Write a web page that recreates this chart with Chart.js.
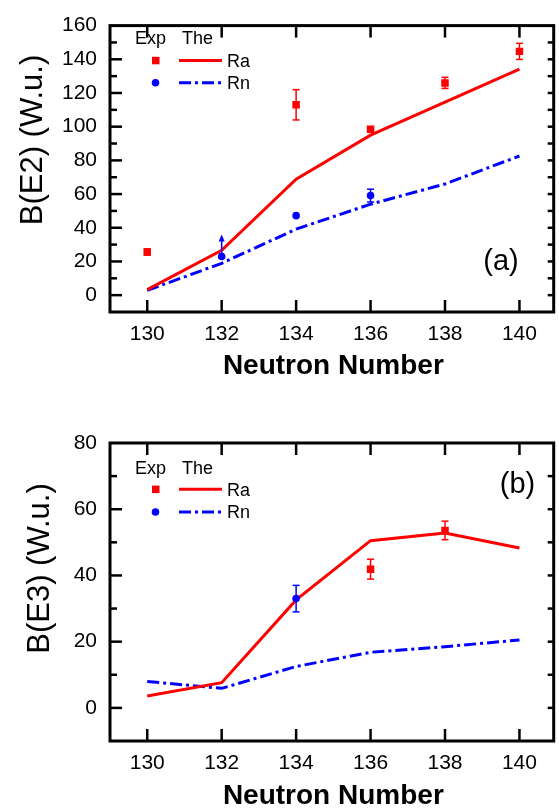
<!DOCTYPE html>
<html><head><meta charset="utf-8">
<script src="https://cdn.jsdelivr.net/npm/chart.js@4/dist/chart.umd.min.js"></script>
<style>
html,body{margin:0;padding:0;background:#fff;}
body{width:559px;height:809px;position:relative;overflow:hidden;}
canvas{position:absolute;left:0;}
#ca{top:0;} #cb{top:405px;}
</style></head><body>
<canvas id="ca" width="559" height="405"></canvas>
<canvas id="cb" width="559" height="404"></canvas>
<script>
// ---- data ----
const neutron = [130,132,134,136,138,140];
const xTickLabels = [130,132,134,136,138,140];
// panel (a) B(E2)
const e2RaExpN = [130,134,136,138,140];
const e2RaExp  = [25.6,113,98.5,126,144.7];
const e2RaErr  = [1.8,9,1.5,3.3,4.8];
const e2RnExpN = [132,134,136];
const e2RnExp  = [22.9,47.2,59.1];
const e2RnErr  = [0,0,3.8];
const e2RnLower = [36,null,null];
const e2RaThe = [3.3,26.6,68.8,95,114.6,134.2];
const e2RnThe = [2.8,18.9,39.2,54,66,82.6];
const e2YTicks = [0,20,40,60,80,100,120,140,160];
// panel (b) B(E3)
const e3RaExpN = [136,138];
const e3RaExp  = [41.9,53.6];
const e3RaErr  = [3,2.8];
const e3RnExpN = [134];
const e3RnExp  = [33];
const e3RnErr  = [4];
const e3RaThe = [3.6,7.6,32.6,50.5,52.8,48.3];
const e3RnThe = [8.0,5.9,12.5,16.8,18.5,20.5];
const e3YTicks = [0,20,40,60,80];

const FONT = '"Liberation Sans", Arial, sans-serif';
const RED = '#ff0000', BLUE = '#0000ff';
const DASHDOT = [12,4,3,4];

function line(ctx,x1,y1,x2,y2){ctx.beginPath();ctx.moveTo(x1,y1);ctx.lineTo(x2,y2);ctx.stroke();}

const framePlugin = {
  id:'frame',
  afterDatasetsDraw(chart, args, opts){
    const ctx = chart.ctx, xs = chart.scales.x, ys = chart.scales.y;
    ctx.save();
    (opts.err||[]).forEach(e=>{
      ctx.strokeStyle = e.color; ctx.fillStyle = e.color; ctx.lineWidth = 1.5;
      e.x.forEach((xv,i)=>{
        const px = xs.getPixelForValue(xv);
        if (e.err[i]) {
          const y1 = ys.getPixelForValue(e.y[i]-e.err[i]), y2 = ys.getPixelForValue(e.y[i]+e.err[i]);
          line(ctx,px,y1,px,y2);
          line(ctx,px-3.5,y1,px+3.5,y1);
          line(ctx,px-3.5,y2,px+3.5,y2);
        }
        if (e.lower && e.lower[i]!=null) {
          const y0 = ys.getPixelForValue(e.y[i]), yt = ys.getPixelForValue(e.lower[i]);
          line(ctx,px,y0,px,yt+4);
          ctx.beginPath(); ctx.moveTo(px,yt); ctx.lineTo(px-3,yt+7); ctx.lineTo(px+3,yt+7); ctx.closePath(); ctx.fill();
        }
      });
    });
    ctx.restore();
  },
  afterDraw(chart, args, opts){
    const ctx = chart.ctx, xs = chart.scales.x, ys = chart.scales.y, a = chart.chartArea;
    ctx.save();
    ctx.strokeStyle = '#000'; ctx.lineWidth = 3;
    ctx.strokeRect(a.left, a.top, a.right-a.left, a.bottom-a.top);
    ctx.lineWidth = 2.5;
    xs.ticks.forEach(t=>{
      const px = xs.getPixelForValue(t.value);
      line(ctx,px,a.bottom,px,a.bottom-12);
      line(ctx,px,a.top,px,a.top+12);
    });
    const maj = ys.ticks.map(t=>t.value);
    const step = maj[1]-maj[0];
    const all = [];
    maj.forEach(v=>{
      all.push({v, major:true});
      const m = v + step/2;
      if (m < ys.max) all.push({v:m, major:false});
      const m2 = v - step/2;
      if (v === maj[0] && m2 > ys.min) all.push({v:m2, major:false});
    });
    all.forEach(o=>{
      const py = ys.getPixelForValue(o.v);
      if (py <= a.top+1 || py >= a.bottom-1) return;
      line(ctx,a.left,py,a.left+(o.major?12:7),py);
      line(ctx,a.right,py,a.right-6,py);
    });
    // titles
    ctx.fillStyle = '#000';
    const yt = opts.yTitle;
    ctx.save();
    ctx.translate(yt.x, yt.y); ctx.rotate(-Math.PI/2);
    ctx.font = '31px ' + FONT; ctx.textAlign = 'center'; ctx.textBaseline = 'middle';
    ctx.fillText(yt.text, 0, 0);
    ctx.restore();
    ctx.font = 'bold 28px ' + FONT; ctx.textAlign = 'center'; ctx.textBaseline = 'middle';
    ctx.fillText(opts.xTitle.text, (a.left+a.right)/2 + 1.5, opts.xTitle.y);
    // panel label
    ctx.font = '29px ' + FONT;
    ctx.fillText(opts.panel.text, opts.panel.x, opts.panel.y);
    // legend
    const L = opts.legend;
    ctx.font = '18px ' + FONT; ctx.textAlign = 'left'; ctx.textBaseline = 'alphabetic';
    ctx.fillText('Exp', 135, L.header);
    ctx.fillText('The', 182, L.header);
    ctx.fillText('Ra', 227, L.row1 + 6.4);
    ctx.fillText('Rn', 227, L.row2 + 6.4);
    ctx.fillStyle = RED; ctx.fillRect(152, L.row1-3.7, 7.5, 7.5);
    ctx.fillStyle = BLUE; ctx.beginPath(); ctx.arc(155.5, L.row2, 3.8, 0, Math.PI*2); ctx.fill();
    ctx.lineWidth = 3;
    ctx.strokeStyle = RED; line(ctx,179,L.row1,222,L.row1);
    ctx.strokeStyle = BLUE; ctx.setLineDash(DASHDOT); line(ctx,179,L.row2,222,L.row2); ctx.setLineDash([]);
    ctx.restore();
  }
};

function pts(xs, ys){ return xs.map((x,i)=>({x, y:ys[i]})); }

function makeChart(id, cfg){
  const H = document.getElementById(id).height;
  return new Chart(document.getElementById(id), {
    type:'scatter',
    data:{datasets:[
      {label:'Ra Exp', data:pts(cfg.raExpN,cfg.raExp), showLine:false, pointStyle:'rect', pointRadius:5.3, backgroundColor:RED, borderWidth:0},
      {label:'Rn Exp', data:pts(cfg.rnExpN,cfg.rnExp), showLine:false, pointStyle:'circle', pointRadius:3.8, backgroundColor:BLUE, borderWidth:0},
      {label:'Ra The', data:pts(neutron,cfg.raThe), showLine:true, borderColor:RED, borderWidth:3, pointRadius:0, fill:false, tension:0},
      {label:'Rn The', data:pts(neutron,cfg.rnThe), showLine:true, borderColor:BLUE, borderWidth:3, borderDash:DASHDOT, pointRadius:0, fill:false, tension:0}
    ]},
    options:{
      responsive:false, animation:false, devicePixelRatio:1,
      layout:{padding:{top:cfg.top, right:2, left:0, bottom:0}},
      plugins:{legend:{display:false}, tooltip:{enabled:false},
        frame:{err:cfg.err, yTitle:cfg.yTitle, xTitle:cfg.xTitle, panel:cfg.panel, legend:cfg.legend}},
      scales:{
        x:{type:'linear', min:129, max:140.92,
          afterBuildTicks:s=>{s.ticks = xTickLabels.map(v=>({value:v}));},
          afterFit:s=>{s.height = H - cfg.bottom;},
          grid:{display:false, drawTicks:false}, border:{display:false},
          ticks:{font:{family:FONT,size:21}, color:'#000', padding:cfg.xPad, maxRotation:0, autoSkip:false}},
        y:{type:'linear', min:cfg.ymin, max:cfg.ymax,
          afterBuildTicks:s=>{s.ticks = cfg.yTicks.map(v=>({value:v}));},
          afterFit:s=>{s.width = 110;},
          grid:{display:false, drawTicks:false}, border:{display:false},
          ticks:{font:{family:FONT,size:21}, color:'#000', padding:13, autoSkip:false}}
      }
    },
    plugins:[framePlugin]
  });
}

makeChart('ca', {
  raExpN:e2RaExpN, raExp:e2RaExp, rnExpN:e2RnExpN, rnExp:e2RnExp,
  raThe:e2RaThe, rnThe:e2RnThe, yTicks:e2YTicks, ymin:-10, ymax:160,
  top:15, bottom:312, xPad:10,
  err:[{x:e2RaExpN, y:e2RaExp, err:e2RaErr, color:RED},
       {x:e2RnExpN, y:e2RnExp, err:e2RnErr, lower:e2RnLower, color:BLUE}],
  yTitle:{text:'B(E2) (W.u.)', x:33, y:140},
  xTitle:{text:'Neutron Number', y:366},
  panel:{text:'(a)', x:501, y:262},
  legend:{header:44, row1:60.5, row2:82.7}
});
makeChart('cb', {
  raExpN:e3RaExpN, raExp:e3RaExp, rnExpN:e3RnExpN, rnExp:e3RnExp,
  raThe:e3RaThe, rnThe:e3RnThe, yTicks:e3YTicks, ymin:-10, ymax:80,
  top:38, bottom:336, xPad:10,
  err:[{x:e3RaExpN, y:e3RaExp, err:e3RaErr, color:RED},
       {x:e3RnExpN, y:e3RnExp, err:e3RnErr, color:BLUE}],
  yTitle:{text:'B(E3) (W.u.)', x:40, y:163.5},
  xTitle:{text:'Neutron Number', y:391},
  panel:{text:'(b)', x:517.5, y:79.5},
  legend:{header:68.5, row1:84.3, row2:107}
});
</script>
</body></html>
